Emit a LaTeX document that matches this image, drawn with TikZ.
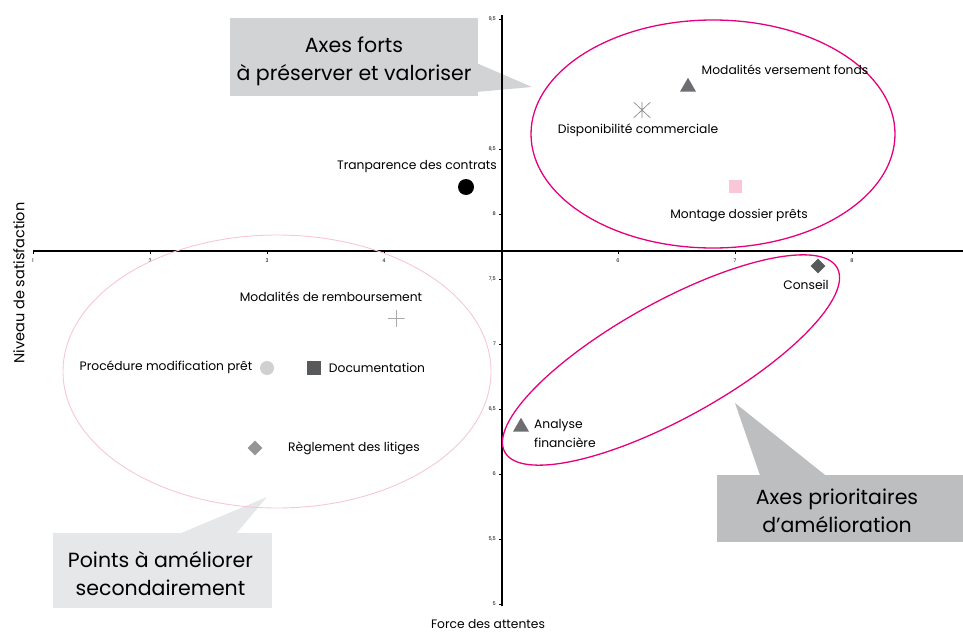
\documentclass[tikz,border=0pt]{standalone}
\usepackage{fontspec}
\setmainfont{Poppins}
\usetikzlibrary{shapes.geometric}
\definecolor{magentaL}{HTML}{E5007D}
\definecolor{pinkL}{HTML}{F7C6D9}
\definecolor{pinkSq}{HTML}{F9C6DA}
\definecolor{calA}{HTML}{D1D3D4}
\definecolor{calB}{HTML}{E6E7E8}
\definecolor{calC}{HTML}{BCBEC0}
\definecolor{triGray}{HTML}{6D6E71}
\definecolor{darkGray}{HTML}{58595B}
\definecolor{midGray}{HTML}{939598}
\definecolor{lightGray}{HTML}{CFD0D2}
\definecolor{starGray}{HTML}{808285}
\definecolor{plusGray}{HTML}{A7A9AC}
\tikzset{
  lbl/.style={font=\fontsize{12.3}{15}\selectfont, inner sep=0pt, text=black},
  axtitle/.style={font=\fontsize{12.3}{14}\selectfont, inner sep=0pt},
  callbox/.style={rectangle, inner sep=0pt},
  calltext/.style={inner sep=0pt, font=\fontsize{20.5}{28}\selectfont, align=center},
  tickl/.style={font=\fontsize{5}{6}\selectfont, inner sep=0pt},
  tri/.style={regular polygon, regular polygon sides=3, minimum size=18.5pt, inner sep=0pt, fill=triGray},
  dia/.style={diamond, minimum width=15pt, minimum height=15pt, inner sep=0pt},
  sqm/.style={rectangle, minimum size=13pt, inner sep=0pt},
  circm/.style={circle, minimum size=16pt, inner sep=0pt},
  starm/.style={rectangle, minimum width=17pt, minimum height=16pt, inner sep=0pt,
    path picture={\draw[starGray, line width=0.6pt]
      (path picture bounding box.north) -- (path picture bounding box.south)
      (path picture bounding box.north east) -- (path picture bounding box.south west)
      (path picture bounding box.north west) -- (path picture bounding box.south east);}},
  plusm/.style={rectangle, minimum size=17pt, inner sep=0pt,
    path picture={\draw[plusGray, line width=0.6pt]
      (path picture bounding box.north) -- (path picture bounding box.south)
      (path picture bounding box.west) -- (path picture bounding box.east);}},
  axisline/.style={line width=1.1pt, black},
  ringA/.style={magentaL, line width=1.3pt},
  ringB/.style={pinkL, line width=0.9pt},
}
\begin{document}
\begin{tikzpicture}[x=1pt,y=-1pt]
\useasboundingbox (0,0) rectangle (963,634);

% callouts
\node[callbox, fill=calA, minimum width=248pt, minimum height=78pt] (cA) at (354,57) {};
\coordinate (tipA) at (532,87);
\fill[calA] ([yshift=-46pt]cA.north east) -- (tipA) -- ([yshift=-74pt]cA.north east) -- cycle;
\node[calltext] (cAt) at ([yshift=-4pt]cA.center) {Axes forts\\à préserver et valoriser};

\node[callbox, fill=calB, minimum width=219pt, minimum height=75pt] (cB) at (162.5,570.5) {};
\coordinate (tipB) at (267,497);
\fill[calB] ([xshift=129pt]cB.north west) -- (tipB) -- ([xshift=184pt]cB.north west) -- cycle;
\node[calltext] (cBt) at ([xshift=-2pt,yshift=-3pt]cB.center) {Points à améliorer\\secondairement};

\node[callbox, fill=calC, minimum width=246pt, minimum height=67pt] (cC) at (840,508.5) {};
\coordinate (tipC) at (735,403);
\fill[calC] ([xshift=43pt]cC.north west) -- (tipC) -- ([xshift=108pt]cC.north west) -- cycle;
\node[calltext] (cCt) at ([xshift=-3pt,yshift=-2pt]cC.center) {Axes prioritaires\\d’amélioration};

% axes
\coordinate (xa0) at (33,251);
\coordinate (xa1) at (963,251);
\coordinate (ya0) at (502,15);
\coordinate (ya1) at (502,606);
\draw[axisline] (xa0) -- (xa1);
\draw[axisline] (ya0) -- (ya1);
\foreach \v in {1,2,3,4,6,7,8} {
  \pgfmathsetmacro{\px}{33+(\v-1)*117}
  \draw[line width=0.6pt] (\px,251) -- (\px,254);
  \node[tickl] (xt\v) at (\px,261) {\v};
}
\foreach \v/\t in {5/5,5.5/{5,5},6/6,6.5/{6,5},7/7,7.5/{7,5},8/8,8.5/{8,5},9.5/{9,5}} {
  \pgfmathsetmacro{\py}{604-(\v-5)*130}
  \draw[line width=0.6pt] (499,\py) -- (502,\py);
  \node[tickl, anchor=east] at (496,\py) {\t};
}
\node[axtitle, rotate=90, font=\fontsize{14.5}{16}\selectfont] (ytitle) at (19,283) {Niveau de satisfaction};
\node[axtitle] (xtitle) at (488,624) {Force des attentes};

% ellipses
\draw[ringA] (713,134) ellipse [x radius=182pt, y radius=114pt];
\draw[ringB] (277,371.5) ellipse [x radius=214pt, y radius=136.5pt];
\draw[ringA, rotate around={29:(671,360)}] (671,360) ellipse [x radius=190pt, y radius=58pt];

% markers and labels
\node[tri] (mvf) at (688,87) {};
\node[lbl] (mvfL) at (785,70) {Modalités versement fonds};
\node[starm] (dc) at (642,110) {};
\node[lbl] (dcL) at (638,130) {Disponibilité commerciale};
\node[sqm, fill=pinkSq] (mdp) at (735,186) {};
\node[lbl] (mdpL) at (739,215) {Montage dossier prêts};
\node[circm, fill=black] (tc) at (466,187) {};
\node[lbl] (tcL) at (417,167) {Tranparence des contrats};
\node[dia, fill=darkGray] (cs) at (818,266) {};
\node[lbl] (csL) at (806,285) {Conseil};
\node[plusm] (mdr) at (396,318) {};
\node[lbl] (mdrL) at (331,297) {Modalités de remboursement};
\node[circm, fill=lightGray, minimum size=14pt] (pmp) at (267,368) {};
\node[lbl] (pmpL) at (166,367) {Procédure modification prêt};
\node[sqm, fill=darkGray, minimum size=14pt] (doc) at (314,368) {};
\node[lbl] (docL) at (377,368) {Documentation};
\node[dia, fill=midGray] (rl) at (255,448) {};
\node[lbl] (rlL) at (354,448) {Règlement des litiges};
\node[tri] (af) at (521,427) {};
\node[lbl, anchor=west, align=left, font=\fontsize{12.3}{19}\selectfont] (afL) at (534,433) {Analyse\\financière};
\end{tikzpicture}
\end{document}
